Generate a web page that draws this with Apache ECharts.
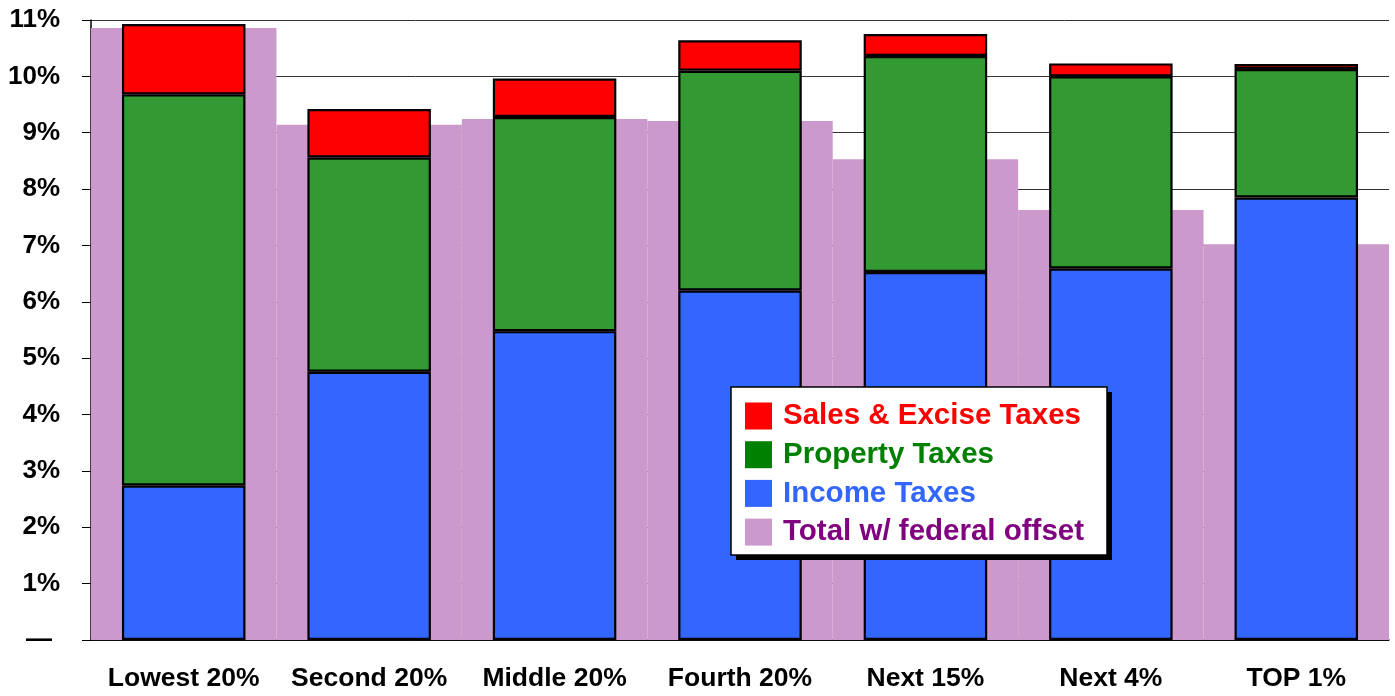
<!DOCTYPE html>
<html>
<head>
<meta charset="utf-8">
<script src="https://cdn.jsdelivr.net/npm/echarts@6/dist/echarts.min.js"></script>
<style>
html, body { margin: 0; padding: 0; background: #fff; }
#chart { width: 1395px; height: 696px; }
</style>
</head>
<body>
<div id="chart"></div>
<script>
var categories = ['Lowest 20%', 'Second 20%', 'Middle 20%', 'Fourth 20%', 'Next 15%', 'Next 4%', 'TOP 1%'];
var incomeTaxes = [2.74, 4.76, 5.48, 6.20, 6.53, 6.59, 7.85];
var propertyTaxes = [6.94, 3.80, 3.80, 3.90, 3.83, 3.41, 2.28];
var salesTaxes = [1.25, 0.86, 0.68, 0.54, 0.39, 0.23, 0.09];
var totalOffset = [10.86, 9.14, 9.245, 9.21, 8.53, 7.63, 7.02];

var font = 'Arial, "Liberation Sans", sans-serif';
var myChart = echarts.init(document.getElementById('chart'));

var barBorder = { borderColor: '#000', borderWidth: 2.2 };

// legend box with its drop shadow
var box = { x: 731, y: 387, w: 376, h: 168 };

var option = {
    animation: false,
    textStyle: { fontFamily: font },
    grid: { left: 91, right: 6, top: 20, bottom: 56 },
    graphic: [
        {
            type: 'rect', z: 3,
            shape: { x: box.x + 5, y: box.y + 5, width: box.w, height: box.h },
            style: { fill: '#000' }
        },
        {
            type: 'rect', z: 3,
            shape: { x: box.x, y: box.y, width: box.w, height: box.h },
            style: { fill: '#fff', stroke: '#000', lineWidth: 1.5 }
        }
    ],
    legend: {
        orient: 'vertical',
        left: box.x,
        top: box.y,
        z: 5,
        padding: [14, 10, 10, 14],
        itemWidth: 27,
        itemHeight: 27,
        itemGap: 8.7,
        icon: 'rect',
        selectedMode: false,
        textStyle: { fontFamily: font, fontWeight: 'bold', fontSize: 29.5, lineHeight: 27, padding: [0, 0, 0, 6] },
        data: [
            { name: 'Sales & Excise Taxes', itemStyle: { color: '#ff0000', borderWidth: 0 }, textStyle: { color: '#ff0000' } },
            { name: 'Property Taxes', itemStyle: { color: '#008000', borderWidth: 0 }, textStyle: { color: '#008000' } },
            { name: 'Income Taxes', itemStyle: { color: '#3366ff', borderWidth: 0 }, textStyle: { color: '#3366ff' } },
            { name: 'Total w/ federal offset', itemStyle: { color: '#cc99cc', borderWidth: 0 }, textStyle: { color: '#800080' } }
        ]
    },
    xAxis: [
        {
            type: 'category',
            data: categories,
            axisLine: { lineStyle: { color: '#000', width: 1.5 } },
            axisTick: { length: 8, lineStyle: { color: '#000' } },
            axisLabel: { interval: 0, color: '#000', fontWeight: 'bold', fontSize: 26.5, margin: 25, fontFamily: font }
        },
        {
            type: 'category',
            data: categories,
            show: false
        }
    ],
    yAxis: {
        type: 'value',
        min: 0,
        max: 11,
        interval: 1,
        axisLine: { show: true, lineStyle: { color: '#000', width: 1.5 } },
        axisTick: { show: true, length: 9, lineStyle: { color: '#000' } },
        splitLine: { lineStyle: { color: '#333', width: 1 } },
        axisLabel: {
            color: '#000',
            fontWeight: 'bold',
            fontSize: 26,
            margin: 31,
            fontFamily: font,
            formatter: function (v) {
                return v === 0 ? '{d|—}' : v + '%';
            },
            rich: { d: { fontWeight: 'bold', fontSize: 26, padding: [0, 8, 0, 0], color: '#000' } }
        }
    },
    series: [
        {
            name: 'Total w/ federal offset',
            type: 'bar',
            xAxisIndex: 1,
            barWidth: '100%',
            itemStyle: { color: '#cc99cc' },
            data: totalOffset
        },
        {
            name: 'Income Taxes',
            type: 'bar',
            stack: 'tax',
            barWidth: '66.6%',
            itemStyle: Object.assign({ color: '#3366ff' }, barBorder),
            data: incomeTaxes
        },
        {
            name: 'Property Taxes',
            type: 'bar',
            stack: 'tax',
            itemStyle: Object.assign({ color: '#339933' }, barBorder),
            data: propertyTaxes
        },
        {
            name: 'Sales & Excise Taxes',
            type: 'bar',
            stack: 'tax',
            itemStyle: Object.assign({ color: '#ff0000' }, barBorder),
            data: salesTaxes
        }
    ]
};
myChart.setOption(option);
</script>
</body>
</html>
